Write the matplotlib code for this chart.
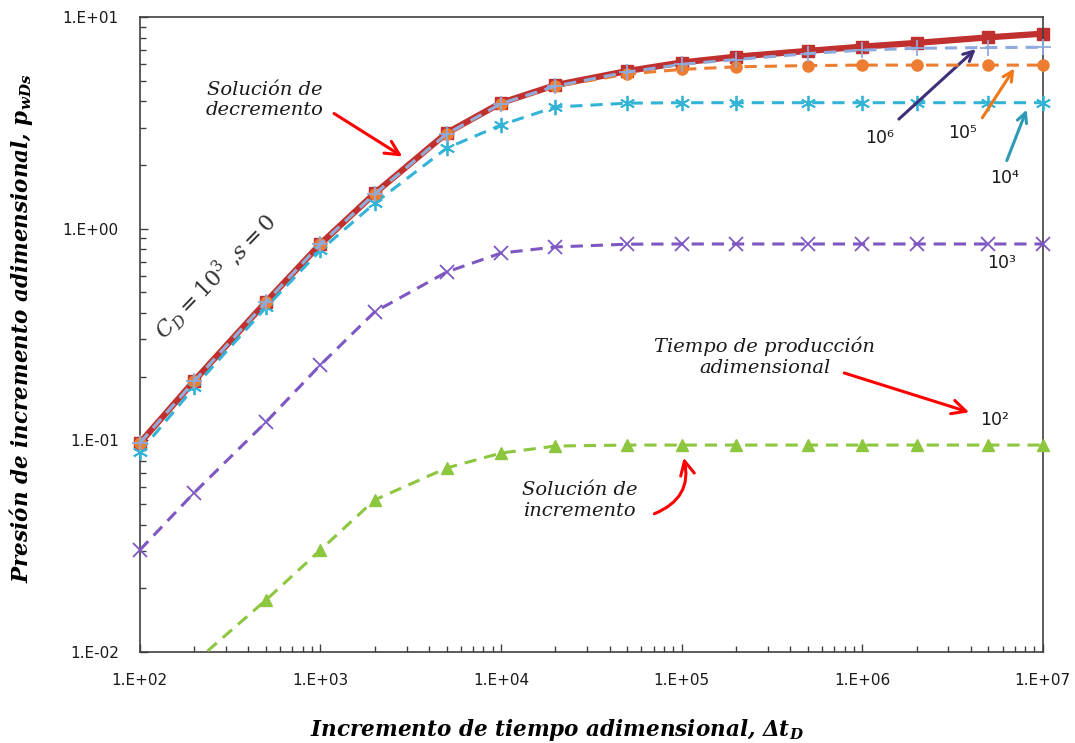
import numpy as np
import matplotlib
matplotlib.use("Agg")
import matplotlib.pyplot as plt
from matplotlib.patches import Rectangle
from matplotlib.ticker import LogLocator, FuncFormatter, NullFormatter

plt.rcParams['mathtext.fontset'] = 'dejavuserif'

# dimensionless shut-in time
dt = [1e2, 2e2, 5e2, 1e3, 2e3, 5e3, 1e4, 2e4, 5e4, 1e5, 2e5, 5e5, 1e6, 2e6, 5e6, 1e7]

# drawdown solution (CD = 1e3, s = 0)
p_decremento = [0.097, 0.191, 0.451, 0.847, 1.47, 2.83, 3.93, 4.77, 5.56, 6.1, 6.5, 6.92, 7.25, 7.55, 8.02, 8.35]

# buildup curves, one per dimensionless production time
p_tp1e6 = [0.097, 0.19, 0.45, 0.845, 1.46, 2.8, 3.9, 4.72, 5.5, 5.98, 6.3, 6.72, 6.98, 7.12, 7.18, 7.2]
p_tp1e5 = [0.097, 0.19, 0.45, 0.845, 1.46, 2.8, 3.9, 4.7, 5.38, 5.66, 5.82, 5.9, 5.93, 5.93, 5.93, 5.93]
p_tp1e4 = [0.088, 0.178, 0.425, 0.79, 1.32, 2.4, 3.09, 3.76, 3.92, 3.94, 3.94, 3.94, 3.94, 3.94, 3.94, 3.94]
p_tp1e3 = [0.0303, 0.0565, 0.122, 0.227, 0.405, 0.624, 0.767, 0.82, 0.845, 0.847, 0.847, 0.847, 0.847, 0.847, 0.847, 0.847]
p_tp1e2 = [0.0045, 0.0089, 0.0176, 0.0303, 0.0523, 0.074, 0.0871, 0.094, 0.095, 0.095, 0.095, 0.095, 0.095, 0.095, 0.095, 0.095]

fig = plt.figure(figsize=(10.75, 7.43), dpi=100)
ax = fig.add_axes([0.130, 0.1225, 0.840, 0.8545])

ax.plot(dt, p_decremento, color='#C0302F', lw=4.5, marker='s', ms=8,
        zorder=2, clip_on=False)

dash = (4, 2.6)
g, = ax.plot(dt, p_tp1e2, color='#8DC63F', lw=2.2, dashes=dash, marker='^', ms=9,
             zorder=3)
g.set_clip_path(Rectangle((0, 0), 1.02, 1, transform=ax.transAxes))
ax.plot(dt, p_tp1e3, color='#7E57C2', lw=2.2, dashes=dash, marker='x', ms=10,
        mew=1.3, zorder=3, clip_on=False)
ax.plot(dt, p_tp1e4, color='#33B3D6', lw=2.2, dashes=dash, marker=(6, 2, 0), ms=11,
        mew=1.3, zorder=3, clip_on=False)
ax.plot(dt, p_tp1e5, color='#ED7D31', lw=2.2, dashes=dash, marker='o', ms=8,
        zorder=4, clip_on=False)
ax.plot(dt, p_tp1e6, color='#8FAADC', lw=2.2, dashes=dash, marker='+', ms=11,
        mew=1.3, zorder=5, clip_on=False)

ax.set_xscale('log')
ax.set_yscale('log')
ax.set_xlim(1e2, 1e7)
ax.set_ylim(1e-2, 1e1)

fmt = FuncFormatter(lambda v, pos: "1.E%+03d" % int(round(np.log10(v))))
ax.xaxis.set_major_locator(LogLocator(base=10, numticks=10))
ax.yaxis.set_major_locator(LogLocator(base=10, numticks=10))
ax.xaxis.set_minor_locator(LogLocator(base=10, subs=np.arange(2, 10), numticks=20))
ax.yaxis.set_minor_locator(LogLocator(base=10, subs=np.arange(2, 10), numticks=20))
ax.xaxis.set_major_formatter(fmt)
ax.yaxis.set_major_formatter(fmt)
ax.xaxis.set_minor_formatter(NullFormatter())
ax.yaxis.set_minor_formatter(NullFormatter())

ax.tick_params(which='both', direction='in', top=False, right=False, color='#404040')
ax.tick_params(which='major', length=6, width=1)
ax.tick_params(which='minor', length=4, width=1)
ax.tick_params(axis='x', pad=15)
ax.tick_params(axis='y', pad=15)
for lab in ax.get_xticklabels() + ax.get_yticklabels():
    lab.set_fontfamily('DejaVu Sans')
    lab.set_fontsize(11)
    lab.set_color('#1a1a1a')
for sp in ax.spines.values():
    sp.set_color('#404040')
    sp.set_linewidth(1.2)

lab_font = dict(family='DejaVu Serif', style='italic', weight='bold', size=15.5)
ax.set_xlabel(r'Incremento de tiempo adimensional, $\mathbfit{\Delta t_D}$', va='center', **lab_font)
ax.set_ylabel(r'Presión de incremento adimensional, $\mathbfit{p_{wDs}}$', va='center', **lab_font)
ax.xaxis.set_label_coords(0.462, -0.123)
ax.yaxis.set_label_coords(-0.131, 0.51)

note = dict(family='DejaVu Serif', style='italic', size=14, color='#1a1a1a')
red_arrow = dict(arrowstyle='->,head_length=1.0,head_width=0.5', color='#FF0000', lw=2.2)

ax.text(492, 4.06, 'Solución de\ndecremento', ha='center', va='center', **note)
ax.annotate('', xy=(2930, 2.16), xytext=(1156, 3.56), arrowprops=red_arrow)

ax.text(2.89e5, 0.248, 'Tiempo de producción\nadimensional', ha='center', va='center', **note)
ax.annotate('', xy=(4.05e6, 0.1345), xytext=(7.7e5, 0.21), arrowprops=red_arrow)

ax.text(2.73e4, 0.0522, 'Solución de\nincremento', ha='center', va='center', **note)
ax.annotate('', xy=(1.02e5, 0.0853), xytext=(6.84e4, 0.0445),
            arrowprops=dict(red_arrow, connectionstyle='arc3,rad=0.45'))

ax.text(262, 0.6, r'$C_D = 10^3$ ,$s = 0$', rotation=46, ha='center', va='center',
        fontsize=16, color='#333333')

sup = dict(family='DejaVu Sans', size=12.5, ha='center', va='center', color='#1a1a1a')
ax.text(5.42e6, 0.1247, '10²', **sup)
ax.text(5.93e6, 0.689, '10³', **sup)
ax.text(6.17e6, 1.73, '10⁴', **sup)
ax.text(3.6e6, 2.83, '10⁵', **sup)
ax.text(1.25e6, 2.68, '10⁶', **sup)

ax.annotate('', xy=(8.26e6, 3.76), xytext=(6.24e6, 2.04),
            arrowprops=dict(arrowstyle='->,head_length=0.7,head_width=0.35', color='#2E9AB5', lw=2.2))
ax.annotate('', xy=(7.1e6, 5.87), xytext=(4.54e6, 3.26),
            arrowprops=dict(arrowstyle='->,head_length=0.7,head_width=0.35', color='#F07818', lw=2.2))
ax.annotate('', xy=(4.37e6, 7.21), xytext=(1.556e6, 3.23),
            arrowprops=dict(arrowstyle='->,head_length=0.7,head_width=0.35', color='#40307A', lw=2.2))

fig.savefig('out.png', dpi=100)
